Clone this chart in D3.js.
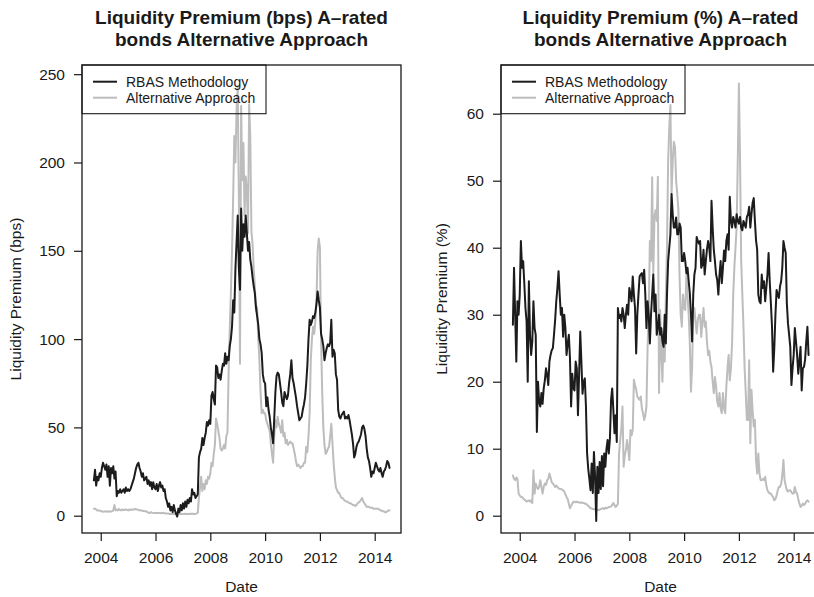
<!DOCTYPE html>
<html>
<head>
<meta charset="utf-8">
<script src="https://cdn.jsdelivr.net/npm/d3@7"></script>
<style>
  body { margin: 0; background: #fff; }
  svg { display: block; }
  text { font-family: "Liberation Sans", Arial, Helvetica, sans-serif; fill: #1a1a1a; }
</style>
</head>
<body>
<svg id="chart" width="814" height="597"></svg>
<script>
// ---- sampling grid: half-monthly observations starting Oct 2003 ----
const startYear = 2003.75;
const stepYear = 1 / 24;

// ---- Left panel: Liquidity premium in bps ----
const bpsRBAS = [
  20, 26, 17, 22, 20, 24,
  22, 27, 30, 28, 26, 29, 22, 28, 17, 27, 24, 28, 21, 25, 11, 14, 13, 15, 13, 14, 15, 13, 16, 14,
  15, 14, 15, 17, 19, 21, 24, 27, 29, 30, 27, 25, 22, 24, 20, 21, 22, 18, 20, 17, 19, 15, 19, 16,
  15, 18, 14, 17, 19, 16, 17, 14, 15, 10, 8, 5, 7, 3, 5, 2, 6, 3, 1, -0.5, 4, 2, 6, 3,
  7, 4, 8, 5, 9, 7, 10, 8, 15, 12, 13, 10, 11, 12, 33, 36, 38, 44, 40, 44, 47, 53, 51, 54,
  52, 68, 70, 66, 63, 85, 84, 78, 80, 77, 82, 86, 85, 92, 86, 90, 88, 96, 100, 107, 122, 115, 140, 155,
  170, 140, 128, 174, 150, 165, 158, 170, 160, 150, 155, 145, 141, 135, 130, 126, 118, 113, 108, 100, 97, 92, 80, 76,
  75, 62, 67, 60, 56, 50, 46, 41, 55, 70, 79, 81, 80, 75, 70, 64, 62, 70, 68, 66, 68, 75, 80, 88,
  78, 75, 71, 67, 62, 58, 54, 55, 56, 60, 63, 67, 75, 85, 100, 111, 108, 110, 113, 112, 115, 120, 127, 122,
  118, 103, 100, 96, 88, 92, 95, 97, 96, 98, 111, 90, 94, 92, 80, 77, 60, 56, 55, 57, 58, 59, 55, 56,
  55, 57, 54, 50, 46, 41, 33, 35, 39, 41, 42, 44, 46, 50, 51, 49, 45, 38, 33, 31, 27, 22, 25, 24,
  27, 30, 28, 26, 25, 27, 24, 22, 25, 26, 28, 31, 30, 27
];
const bpsAlt = [
  4, 4, 3.5, 3, 3, 3,
  2.5, 2.5, 2.2, 2.3, 2.5, 2.4, 2.2, 2.5, 2.4, 2.3, 2.6, 3, 6, 3, 3.5, 3, 3.8, 3.2, 3, 3.5, 3.2, 3.4, 3.6, 3.3,
  3, 3.5, 3.2, 3.6, 3.4, 3.5, 3.8, 3.6, 3.5, 3.2, 3, 3.1, 3, 2.6, 2.5, 2.6, 2.4, 2, 1.5, 1.5, 2, 1.7, 1.6, 1.5,
  1.5, 1.6, 1.5, 1.6, 1.5, 1.4, 1.5, 1.5, 1.4, 1.3, 1.2, 1.2, 1, 1, 1.1, 1, 0.9, 1, 1, 0.9, 1, 1.1, 1, 1,
  1, 1, 1.1, 1, 1, 1.1, 1, 1, 1.2, 1, 1, 1, 1.3, 1.5, 10, 16, 22, 14, 18, 15, 20, 18, 22, 21,
  24, 30, 28, 35, 40, 55, 52, 48, 44, 38, 37, 38, 40, 38, 45, 47, 80, 105, 126, 150, 180, 215, 200, 230,
  243, 180, 86, 232, 190, 211, 170, 192, 185, 160, 233, 215, 161, 154, 140, 130, 116, 118, 100, 88, 70, 58, 60, 58,
  58, 54, 52, 50, 48, 41, 35, 30, 45, 54, 50, 56, 52, 50, 47, 54, 45, 47, 41, 43, 40, 41, 42, 41,
  41, 38, 35, 31, 28, 29, 28, 27, 28, 28, 30, 30, 39, 36, 45, 58, 88, 100, 107, 103, 110, 122, 150, 157,
  152, 100, 70, 50, 40, 35, 36, 38, 39, 45, 52, 41, 30, 22, 16, 14.5, 13, 12.7, 11, 10, 10, 9, 8.5, 8,
  8, 7.5, 7, 7, 6.5, 6, 6, 5.5, 6, 7, 7.5, 8, 9, 10, 8, 7, 6, 5, 5, 5, 4.5, 4.5, 4.5, 4,
  4, 4, 4, 4, 3.5, 3, 3, 2.5, 2.5, 2, 2, 2.5, 3, 3
];

// ---- Right panel: Liquidity premium in % ----
const pctRBAS = [
  28.5, 37, 30, 23, 32, 30,
  33, 41, 37, 38, 34.7, 31, 29, 20, 35, 27, 24, 26, 32, 28, 27, 12.5, 20, 17, 16.3, 18.3, 16.7, 19, 20.2, 22,
  21, 19.5, 23, 24, 24.7, 25, 27, 29.2, 32, 34, 36.5, 33, 30, 31, 26.7, 30, 28, 24, 25.7, 27, 23.5, 16.3, 21.2, 19,
  18.7, 23, 22, 15, 21, 27.5, 23, 18.2, 20, 20.5, 16.3, 9.3, 7, 5.5, 3.8, 7.8, 3.4, 9.5, 5.9, -0.8, 7.3, 3.4, 8, 4,
  8.9, 4.4, 9.3, 7.3, 10, 11.3, 9.3, 11.5, 17.3, 19, 15.8, 12.3, 15, 11, 31, 29.5, 30, 29, 31, 30, 28, 30, 31.5, 30,
  34, 33, 32, 35.7, 33, 31, 24.2, 30, 33, 35.7, 36, 36.2, 34.7, 36.7, 33, 28, 32, 30, 25.7, 30, 33, 36, 30.5, 33,
  27, 28, 30, 27, 28, 26, 25.2, 30, 25.7, 33, 38, 40, 42, 48, 45, 43, 43, 44.5, 42, 42, 43.6, 43, 38, 38,
  39.2, 38, 36.2, 37, 35, 33.2, 30, 26, 33, 36, 37, 41.6, 41, 40.6, 41, 37, 37.5, 39.7, 36, 38, 39.7, 41, 40, 38,
  47, 43, 39.7, 38, 36, 35.2, 33, 36, 38, 34.7, 37, 39.6, 38, 41, 42, 39.7, 47.6, 44, 43, 44.6, 44, 43, 45, 44,
  43.6, 44.6, 43, 42.6, 44, 43.5, 43, 44.6, 45, 46.1, 43, 45, 46.7, 47.4, 44, 41.1, 39.7, 33, 32, 31.7, 36, 34, 35, 32,
  34, 36, 39.2, 35, 31.7, 28.2, 21.5, 25, 30, 33.7, 33, 32.5, 34.2, 35, 37, 41, 40, 39.2, 31.7, 28.7, 27, 25.2, 19.5, 22,
  24, 28, 26, 24, 21.2, 23, 25.2, 18.7, 22, 22.2, 23.3, 26, 28.2, 24
];
const pctAlt = [
  6, 5.5, 5.3, 5.7, 5.5, 3.3,
  3, 2.8, 2.8, 2.6, 2.4, 2.3, 2.1, 2.2, 2.3, 2.1, 2.3, 1.9, 6.8, 3.3, 4.8, 4.3, 4, 4.3, 5.3, 4.3, 3.3, 4.3, 4.8, 4.6,
  5.3, 5.5, 6.3, 5.7, 5, 4.8, 4.6, 4.3, 4.5, 4.3, 4.1, 4, 4, 3.9, 3.8, 3.6, 3.2, 2.8, 2.5, 1.8, 1.1, 1.5, 1.8, 2.1,
  2.1, 2, 2.1, 2, 2, 1.9, 2, 1.9, 1.9, 1.8, 1.8, 1.6, 1.5, 1.3, 1.1, 1.1, 1, 1, 0.9, 0.8, 0.9, 0.8, 0.9, 1,
  1.1, 1.1, 1, 1.2, 1.1, 1.2, 1.3, 1.3, 1.4, 1.6, 1.9, 1.6, 1.3, 1.5, 1.8, 9.3, 11.3, 13, 16.3, 7.3, 9, 9.8, 11.3, 10,
  8.3, 12.8, 12, 12.8, 20.3, 19.5, 18.8, 17.8, 17.5, 17.3, 17.8, 16, 15.3, 14.3, 15, 16.3, 25.2, 30.2, 41, 38, 50.5, 36, 44.6, 45.6,
  44, 50.6, 18.3, 30.7, 24, 20, 27, 23, 33, 40, 53, 58, 61.3, 48, 53, 55.8, 55, 50, 48, 45.6, 35.7, 30, 28.2, 33,
  31, 30.7, 36, 33, 30, 25.7, 18.5, 22.2, 30.2, 31, 29, 27.2, 29.2, 30, 30, 26.7, 29, 31, 28.2, 29, 26, 24, 24.6, 23,
  22.2, 20, 18.3, 20.7, 19.3, 17, 16.3, 18.3, 16, 15.3, 18.3, 16, 15.3, 19.3, 22, 24, 20.2, 22, 25.7, 33, 37, 40, 43, 53,
  64.5, 53, 38, 33, 28.2, 22, 18.3, 14.3, 14.3, 23.2, 10.8, 18.8, 15.8, 13.3, 14.3, 8.3, 6.3, 9.3, 6.3, 5.3, 5.3, 5.5, 5.3, 5.8,
  4.5, 3.8, 3.5, 3.3, 3.3, 3, 2.8, 2.3, 2.5, 3, 3.8, 4.3, 4.3, 4.8, 6, 8.3, 5.3, 4.5, 3.8, 3.6, 3.8, 3.8, 3.5, 3.3,
  3.3, 4.3, 3.5, 3.3, 2.5, 1.8, 1.3, 1.5, 1.8, 1.6, 1.8, 2.1, 2.3, 2.1
];

// ---- axis ticks & text ----
const xTicks = [2004, 2006, 2008, 2010, 2012, 2014];
const bpsTicks = [0, 50, 100, 150, 200, 250];
const pctTicks = [0, 10, 20, 30, 40, 50, 60];
const titleLeft = ["Liquidity Premium (bps) A\u2013rated", "bonds Alternative Approach"];
const titleRight = ["Liquidity Premium (%) A\u2013rated", "bonds Alternative Approach"];
const yLabelLeft = "Liquidity Premium (bps)";
const yLabelRight = "Liquidity Premium (%)";
const xLabel = "Date";
const seriesNames = ["RBAS Methodology", "Alternative Approach"];
const seriesColors = ["#1c1c1c", "#bdbdbd"];

// ---- drawing ----
const svg = d3.select("#chart");
const xDomain = [2003.316, 2014.96];

const panels = [
  { x0: 82, x1: 401, yDomain: [-9.8, 255.2], ticks: bpsTicks, rbas: bpsRBAS, alt: bpsAlt,
    title: titleLeft, ylab: yLabelLeft, ylabX: 15.5 },
  { x0: 501, x1: 820, yDomain: [-2.58, 67.27], ticks: pctTicks, rbas: pctRBAS, alt: pctAlt,
    title: titleRight, ylab: yLabelRight, ylabX: 442 }
];
const yTop = 65, yBot = 533;

panels.forEach(p => {
  const x = d3.scaleLinear().domain(xDomain).range([p.x0, p.x1]);
  const y = d3.scaleLinear().domain(p.yDomain).range([yBot, yTop]);
  const g = svg.append("g");

  const line = d3.line()
    .x((d, i) => x(startYear + i * stepYear))
    .y(d => y(d));

  // series: alternative (grey) first, RBAS (black) on top
  g.append("path").datum(p.alt)
    .attr("d", line).attr("fill", "none")
    .attr("stroke", seriesColors[1]).attr("stroke-width", 2)
    .attr("stroke-linejoin", "round").attr("stroke-linecap", "round");
  g.append("path").datum(p.rbas)
    .attr("d", line).attr("fill", "none")
    .attr("stroke", seriesColors[0]).attr("stroke-width", 2)
    .attr("stroke-linejoin", "round").attr("stroke-linecap", "round");

  // box
  g.append("rect")
    .attr("x", p.x0).attr("y", yTop)
    .attr("width", p.x1 - p.x0).attr("height", yBot - yTop)
    .attr("fill", "none").attr("stroke", "#1a1a1a").attr("stroke-width", 1.3);

  // axes
  const yAxis = d3.axisLeft(y).tickValues(p.ticks).tickSize(8).tickPadding(9).tickFormat(d3.format("d"));
  const ya = g.append("g").attr("transform", `translate(${p.x0},0)`).call(yAxis);
  const xAxis = d3.axisBottom(x).tickValues(xTicks).tickSize(8).tickPadding(11).tickFormat(d3.format("d"));
  const xa = g.append("g").attr("transform", `translate(0,${yBot})`).call(xAxis);
  [ya, xa].forEach(a => {
    a.select(".domain").remove();
    a.selectAll(".tick line").attr("stroke", "#1a1a1a").attr("stroke-width", 1.2);
    a.selectAll(".tick text").attr("font-size", "15.5px")
      .attr("font-family", "'Liberation Sans', Arial, sans-serif").attr("fill", "#1a1a1a");
  });

  // title
  const cx = (p.x0 + p.x1) / 2;
  g.append("text").attr("x", cx).attr("y", 24).attr("text-anchor", "middle")
    .attr("font-size", "19px").attr("font-weight", "bold").text(p.title[0]);
  g.append("text").attr("x", cx).attr("y", 45.5).attr("text-anchor", "middle")
    .attr("font-size", "19px").attr("font-weight", "bold").text(p.title[1]);

  // axis labels
  g.append("text").attr("x", cx).attr("y", 592).attr("text-anchor", "middle")
    .attr("font-size", "15.5px").text(xLabel);
  g.append("text")
    .attr("transform", `translate(${p.ylabX},${(yTop + yBot) / 2}) rotate(-90)`)
    .attr("text-anchor", "middle").attr("dy", "0.35em")
    .attr("font-size", "15.5px").text(p.ylab);

  // legend (transparent background, as in R)
  const lg = g.append("g").attr("transform", `translate(${p.x0},${yTop})`);
  lg.append("rect").attr("x", 0).attr("y", 0).attr("width", 184).attr("height", 48.7)
    .attr("fill", "none").attr("stroke", "#1a1a1a").attr("stroke-width", 1.1);
  seriesNames.forEach((name, i) => {
    const yy = 16.7 + i * 16;
    lg.append("line").attr("x1", 11).attr("x2", 35).attr("y1", yy).attr("y2", yy)
      .attr("stroke", seriesColors[i]).attr("stroke-width", 2);
    lg.append("text").attr("x", 44).attr("y", yy).attr("dy", "0.35em")
      .attr("font-size", "14px").text(name);
  });
});
</script>
</body>
</html>
